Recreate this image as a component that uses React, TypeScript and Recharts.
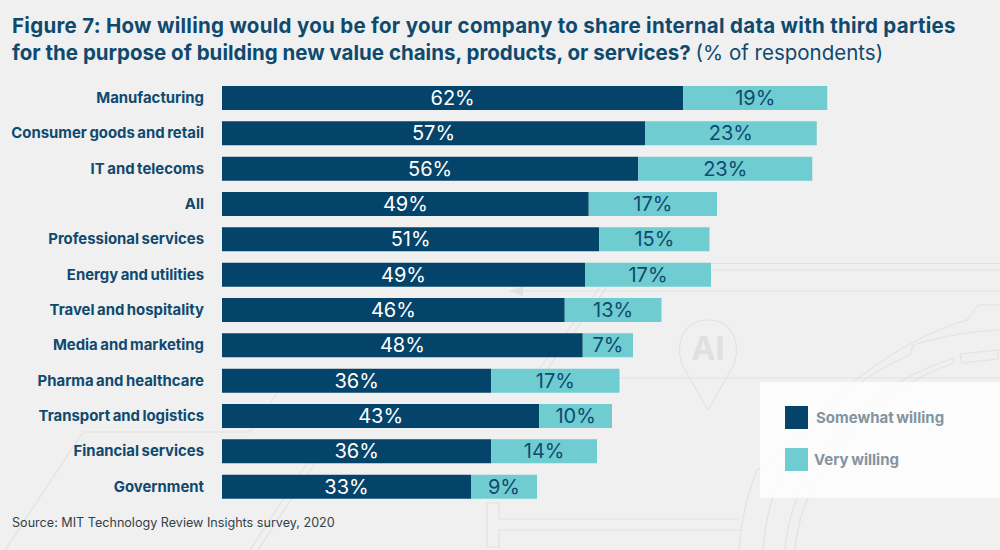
import { BarChart, Bar, XAxis, YAxis, LabelList } from "recharts";

const FONT = "Inter, 'Liberation Sans', sans-serif";

const categories = [
  "Manufacturing",
  "Consumer goods and retail",
  "IT and telecoms",
  "All",
  "Professional services",
  "Energy and utilities",
  "Travel and hospitality",
  "Media and marketing",
  "Pharma and healthcare",
  "Transport and logistics",
  "Financial services",
  "Government",
];

// bar lengths as drawn (they don't quite follow the printed numbers)
const somewhatValues = [61.5, 56.4, 55.5, 48.9, 50.3, 48.4, 45.7, 48.1, 35.9, 42.3, 35.9, 33.2];
const veryValues = [19.2, 22.9, 23.2, 17.1, 14.7, 16.8, 12.9, 6.7, 17.1, 9.7, 14.1, 8.8];

// numbers printed on the bars
const somewhatLabels = ["62%", "57%", "56%", "49%", "51%", "49%", "46%", "48%", "36%", "43%", "36%", "33%"];
const veryLabels = ["19%", "23%", "23%", "17%", "15%", "17%", "13%", "7%", "17%", "10%", "14%", "9%"];

const data = categories.map((name, i) => ({
  name,
  somewhat: somewhatValues[i],
  very: veryValues[i],
  somewhatLabel: somewhatLabels[i],
  veryLabel: veryLabels[i],
}));

const legendItems = [
  { name: "Somewhat willing", color: "#05446a", textLeft: 816 },
  { name: "Very willing", color: "#6fccd1", textLeft: 814 },
];

// faint line art behind the chart
function Backdrop() {
  const line = { fill: "none", stroke: "#e1e2e3", strokeWidth: 1.2 };
  return (
    <svg width={1000} height={550} style={{ position: "absolute", left: 0, top: 0 }}>
      <path {...line} d="M711 263.5H1000M711 270H1000" />
      <path {...line} d="M520 291H1000" />
      <path d="M509 291L523 286V296Z" fill="#e0e1e2" />
      <path {...line} d="M480 378H1000" />
      <path {...line} d="M740 519H499V503H487V547H499V530H740" />
      {/* big circuit arcs */}
      <path {...line} d="M739 550C741 520 747 495 757 470L772 463C800 425 880 345 967 320L978 305H1000" />
      <path {...line} d="M763 550C765 525 770 500 780 477C800 430 850 380 910 355L913 345C945 335 975 331 1000 330" />
      <path {...line} d="M785 550C790 490 830 400 953 358L954 363C860 395 800 480 795 550" />
      <path {...line} d="M960 354L998 350V359L962 363Z" />
      {/* diagonals */}
      <path {...line} d="M5 550L83 432H250L278 392" />
      <path {...line} d="M250 550L307 463M258 550L315 463" />
      <path {...line} d="M540 368L600 287M548 368L607 287" />
      {/* map pin */}
      <path {...line} d="M708 410L684 368C674 350 680 320 708 320C736 320 742 350 732 368Z" />
      <text x={708} y={360} textAnchor="middle" fontFamily={FONT} fontSize={32} fontWeight={700} fill="#dfe0e2">
        AI
      </text>
    </svg>
  );
}

function ChartLegend() {
  return (
    <div
      style={{
        position: "absolute",
        left: 760,
        top: 382,
        width: 240,
        height: 116,
        background: "rgba(255,255,255,0.8)",
      }}
    >
      {legendItems.map((item, i) => (
        <div key={item.name}>
          <div
            style={{
              position: "absolute",
              left: 25,
              top: 24 + i * 42,
              width: 23,
              height: 23,
              background: item.color,
            }}
          />
          <div
            style={{
              position: "absolute",
              left: item.textLeft - 760,
              top: 26 + i * 42,
              fontFamily: FONT,
              fontSize: 15,
              wordSpacing: -1,
              lineHeight: "20px",
              fontWeight: 700,
              color: "#84949f",
              whiteSpace: "nowrap",
            }}
          >
            {item.name}
          </div>
        </div>
      ))}
    </div>
  );
}

export default function App() {
  return (
    <div
      style={{
        position: "absolute",
        left: 0,
        top: 0,
        width: 1000,
        height: 550,
        overflow: "hidden",
        background: "#f0f0f0",
      }}
    >
      <Backdrop />
      <div
        style={{
          position: "absolute",
          left: 12,
          top: 13,
          width: 985,
          fontFamily: FONT,
          fontSize: 20.5,
          lineHeight: "26.5px",
          fontWeight: 700,
          color: "#0f4a6e",
          whiteSpace: "nowrap",
        }}
      >
        <span style={{ letterSpacing: 0.28 }}>
          Figure 7: How willing would you be for your company to share internal data with third parties
        </span>
        <br />
        for the purpose of building new value chains, products, or services?{" "}
        <span style={{ fontWeight: 400 }}>(% of respondents)</span>
      </div>
      <div style={{ position: "absolute", left: 0, top: 0 }}>
        <BarChart
          width={1000}
          height={550}
          data={data}
          layout="vertical"
          barSize={24}
          margin={{ top: 80, right: 28, bottom: 46, left: 0 }}
        >
          <XAxis type="number" domain={[0, 100]} hide />
          <YAxis
            type="category"
            dataKey="name"
            width={222}
            interval={0}
            axisLine={false}
            tickLine={false}
            tickMargin={12}
            tick={{
              fill: "#0f4a6e",
              fontFamily: FONT,
              fontSize: 14.9,
              fontWeight: 700,
              style: { wordSpacing: -1 },
            }}
          />
          <Bar dataKey="somewhat" stackId="a" fill="#05446a" isAnimationActive={false}>
            <LabelList
              dataKey="somewhatLabel"
              position="center"
              fill="#ffffff"
              style={{ fontFamily: FONT, fontSize: 20 }}
            />
          </Bar>
          <Bar dataKey="very" stackId="a" fill="#6fccd1" isAnimationActive={false}>
            <LabelList
              dataKey="veryLabel"
              position="center"
              fill="#0f4a6e"
              style={{ fontFamily: FONT, fontSize: 20 }}
            />
          </Bar>
        </BarChart>
      </div>
      <ChartLegend />
      <div
        style={{
          position: "absolute",
          left: 12,
          top: 514,
          fontFamily: FONT,
          fontSize: 12.6,
          lineHeight: "18px",
          color: "#333f48",
        }}
      >
        Source: MIT Technology Review Insights survey, 2020
      </div>
    </div>
  );
}
